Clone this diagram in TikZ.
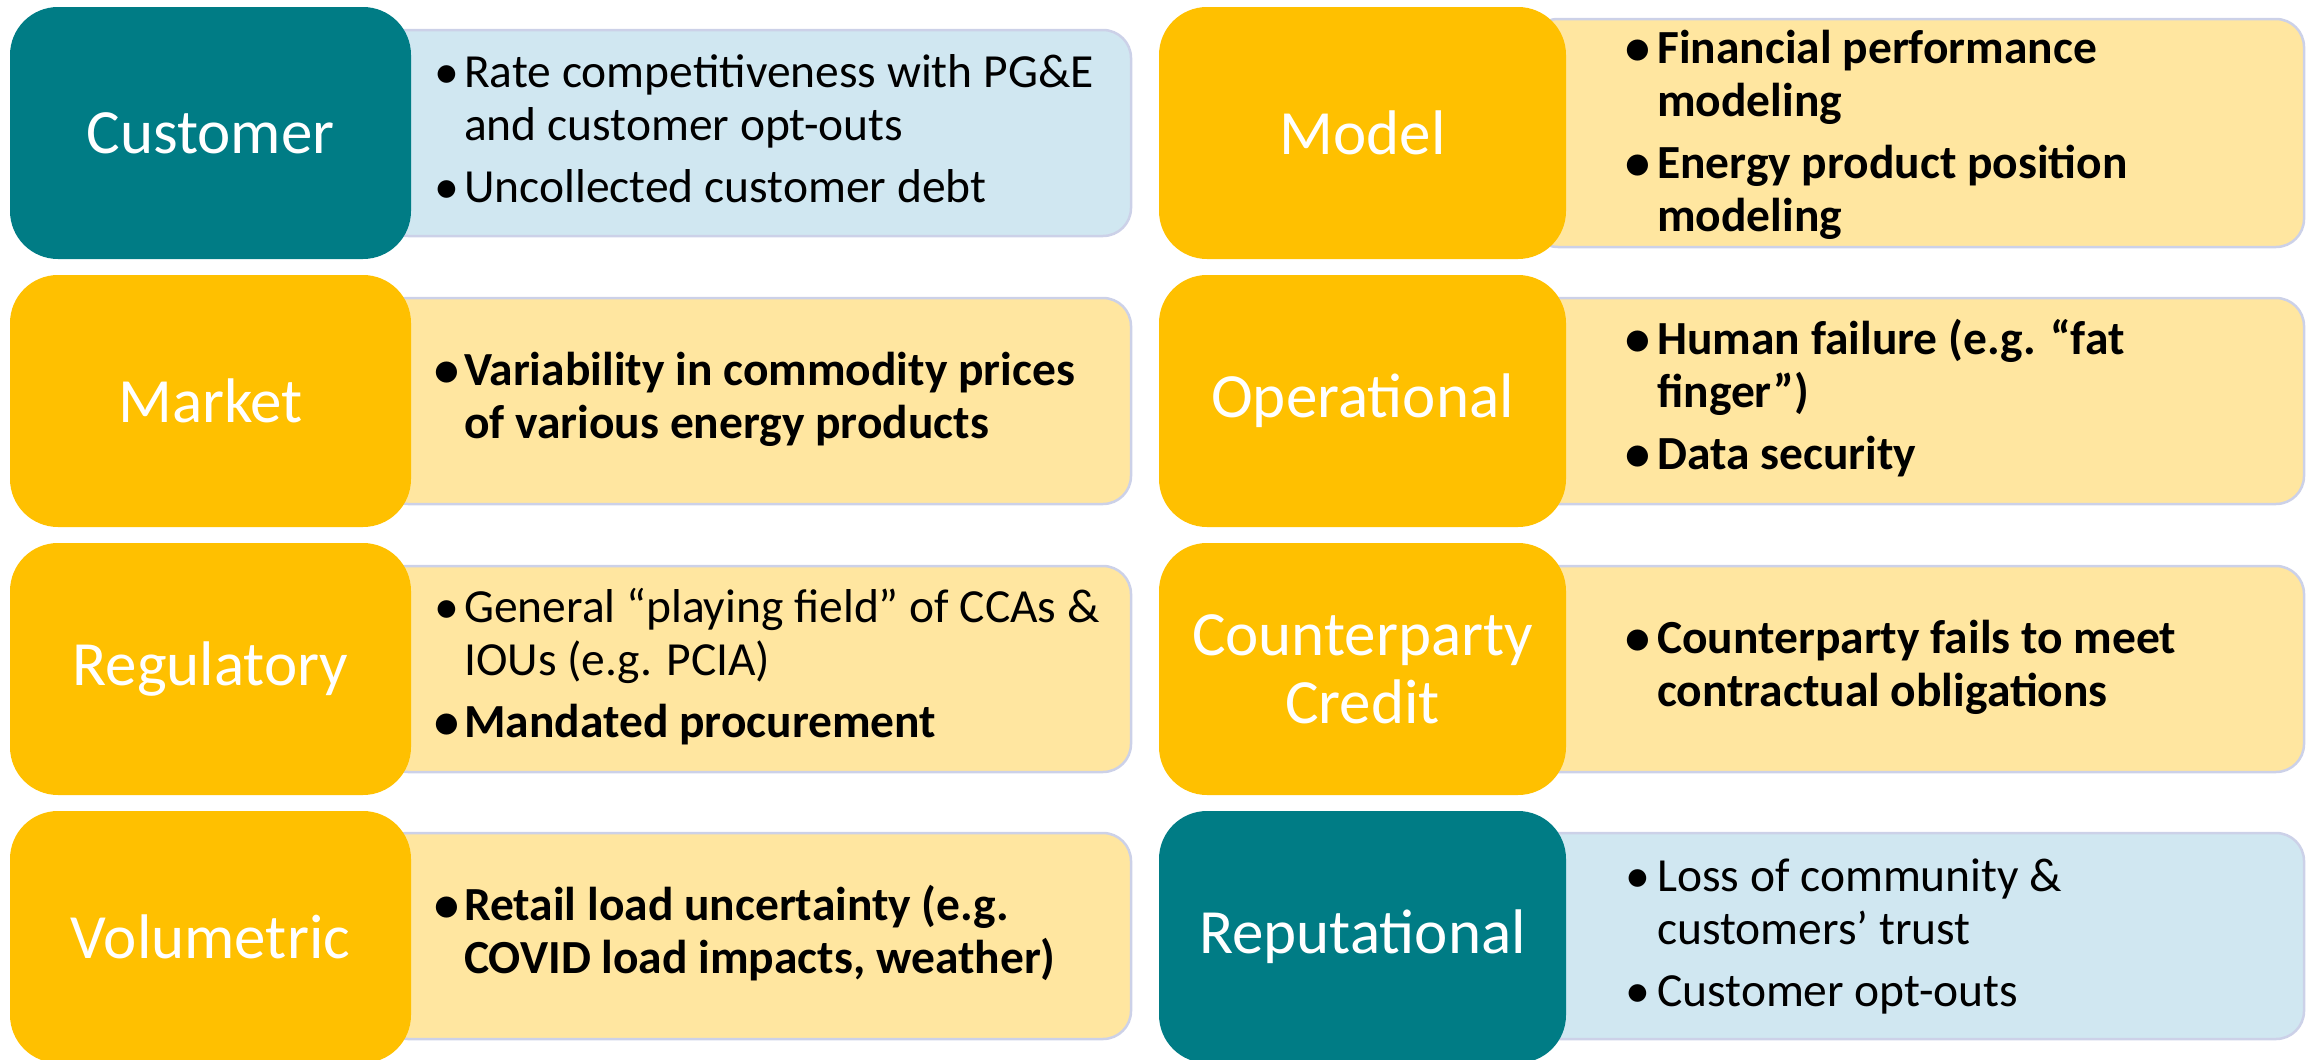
\documentclass[tikz,border=0pt]{standalone}
\usepackage{fontspec}
\setmainfont{Carlito}
\usepackage{array}
\definecolor{teal}{RGB}{0,124,133}
\definecolor{gold}{RGB}{255,192,0}
\definecolor{paleyellow}{RGB}{255,230,160}
\definecolor{paleblue}{RGB}{208,231,241}
\definecolor{edgeblue}{RGB}{204,209,232}
% list bullet, pulled left onto the bullet column edge
\newcommand{\bpt}{\hspace*{-6pt}\raisebox{-1pt}{\scalebox{1.05}{\textbullet}}}
\newcommand{\sz}[1]{\fontsize{#1}{53}\selectfont}
\begin{document}
\begin{tikzpicture}[x=1pt,y=-1pt,
  header/.style={rectangle,rounded corners=48pt,inner sep=0pt,text=white,
    font=\fontsize{63}{68}\selectfont,align=center},
  lefthead/.style={header,minimum width=401pt,minimum height=252pt},
  righthead/.style={header,minimum width=407pt,minimum height=252pt},
  detail/.style={rectangle,rounded corners=28pt,draw=edgeblue,line width=2.5pt,inner sep=0pt},
  leftdetail/.style={detail,minimum width=751pt,minimum height=206pt},
  rightdetail/.style={detail,minimum width=774pt,minimum height=206pt},
  itemtext/.style={anchor=west,inner sep=0pt,font=\sz{47.5}},
]
\useasboundingbox (0,0) rectangle (2313,1060);

% ---- detail panels (drawn first; their left ends sit under the headers)
\node[leftdetail,fill=paleblue]   (d1) at (755.5,133) {};
\node[leftdetail,fill=paleyellow] (d2) at (755.5,401) {};
\node[leftdetail,fill=paleyellow] (d3) at (755.5,669) {};
\node[leftdetail,fill=paleyellow] (d4) at (755.5,936) {};
\node[rightdetail,fill=paleyellow,minimum height=228pt] (d5) at (1917,133) {};
\node[rightdetail,fill=paleyellow] (d6) at (1917,401) {};
\node[rightdetail,fill=paleyellow] (d7) at (1917,669) {};
\node[rightdetail,fill=paleblue]   (d8) at (1917,936) {};

% ---- category headers
\node[lefthead,fill=teal]  (h1) at (210.5,133) {Customer};
\node[lefthead,fill=gold]  (h2) at (210.5,401) {Market};
\node[lefthead,fill=gold]  (h3) at (210.5,669) {Regulatory};
\node[lefthead,fill=gold]  (h4) at (210.5,937) {Volumetric};
\node[righthead,fill=gold] (h5) at (1362.5,133) {Model};
\node[righthead,fill=gold] (h6) at (1362.5,401) {Operational};
\node[righthead,fill=gold] (h7) at (1362.5,669) {Counterparty\\Credit};
\node[righthead,fill=teal] (h8) at (1362.5,937) {Reputational};

% ---- bullet texts
\node[itemtext] (t1) at (440,134) {\begin{tabular}{@{}p{24pt}@{}l@{}}
\bpt & Rate competitiveness with PG\&E\\
     & and customer opt-outs\\[9pt]
\bpt & Uncollected customer debt
\end{tabular}};
\node[itemtext] (t2) at (440,401) {\bfseries\begin{tabular}{@{}p{24pt}@{}l@{}}
\bpt & Variability in commodity prices\\
     & of various energy products
\end{tabular}};
\node[itemtext] (t3) at (440,669) {\begin{tabular}{@{}p{24pt}@{}l@{}}
\bpt & General “playing field” of CCAs \&\\
     & IOUs (e.g. PCIA)\\[9pt]
\bfseries\bpt & \bfseries Mandated procurement
\end{tabular}};
\node[itemtext] (t4) at (440,936) {\bfseries\begin{tabular}{@{}p{24pt}@{}l@{}}
\bpt & Retail load uncertainty (e.g.\\
     & COVID load impacts, weather)
\end{tabular}};
\node[itemtext] (t5) at (1631,137) {\bfseries\begin{tabular}{@{}p{26pt}@{}l@{}}
\bpt & Financial performance\\
     & modeling\\[9pt]
\bpt & Energy product position\\
     & modeling
\end{tabular}};
\node[itemtext] (t6) at (1631,401) {\bfseries\begin{tabular}{@{}p{26pt}@{}l@{}}
\bpt & Human failure (e.g. “fat\\
     & finger”)\\[9pt]
\bpt & Data security
\end{tabular}};
\node[itemtext] (t7) at (1631,669) {\bfseries\begin{tabular}{@{}p{26pt}@{}l@{}}
\bpt & Counterparty fails to meet\\
     & contractual obligations
\end{tabular}};
\node[itemtext] (t8) at (1631,938) {\begin{tabular}{@{}p{26pt}@{}l@{}}
\bpt & Loss of community \&\\
     & customers’ trust\\[9pt]
\bpt & Customer opt-outs
\end{tabular}};
\end{tikzpicture}
\end{document}
